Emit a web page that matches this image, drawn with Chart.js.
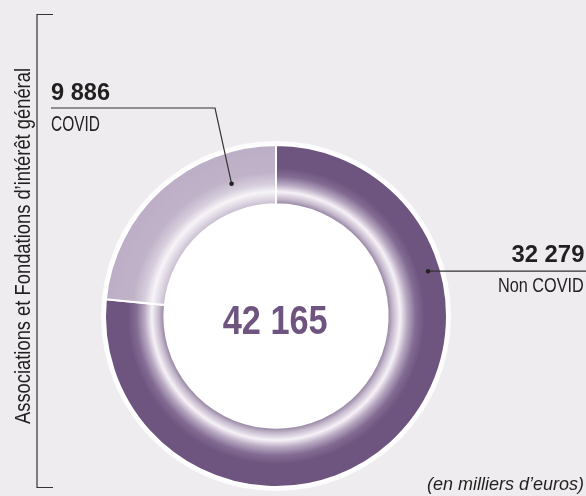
<!DOCTYPE html>
<html>
<head>
<meta charset="utf-8">
<script src="https://cdn.jsdelivr.net/npm/chart.js@4.4.1/dist/chart.umd.min.js"></script>
<style>
  html, body { margin: 0; padding: 0; background: #eeecee; }
  #wrap { position: relative; width: 586px; height: 496px; overflow: hidden;
          font-family: "Liberation Sans", Arial, sans-serif; color: #231f20; }
  #wrap canvas { position: absolute; left: 0; top: 0; }
  .lbl { position: absolute; white-space: nowrap; line-height: 1; }
</style>
</head>
<body>
<div id="wrap">
  <canvas id="donut" width="586" height="496"></canvas>
  <div class="lbl" id="side" style="font-size:22px;">Associations et Fondations d’intérêt général</div>
  <div class="lbl" id="v1" style="font-size:24px; font-weight:bold;"></div>
  <div class="lbl" id="c1" style="font-size:22px;"></div>
  <div class="lbl" id="v0" style="font-size:24px; font-weight:bold;"></div>
  <div class="lbl" id="c0" style="font-size:21px;"></div>
  <div class="lbl" id="total" style="font-size:40px; font-weight:bold; color:#6e5580;"></div>
  <div class="lbl" id="unit" style="font-size:18px; font-style:italic;">(en milliers d’euros)</div>
</div>
<script>
// data
const labels = ['Non COVID', 'COVID'];
const values = [32279, 9886];

const fmt = n => String(n).replace(/\B(?=(\d{3})+(?!\d))/g, ' ');

document.getElementById('v0').textContent = fmt(values[0]);
document.getElementById('c0').textContent = labels[0];
document.getElementById('v1').textContent = fmt(values[1]);
document.getElementById('c1').textContent = labels[1];
document.getElementById('total').textContent = fmt(values.reduce((a, b) => a + b, 0));

// squeeze text into the condensed widths of the original
function place(id, x, top, w, align) {
    const el = document.getElementById(id);
    const s = w / el.getBoundingClientRect().width;
    el.style.top = top + 'px';
    if (align === 'right') {
        el.style.right = (586 - x) + 'px';
        el.style.transformOrigin = 'right center';
    } else if (align === 'center') {
        el.style.left = (x - el.getBoundingClientRect().width / 2) + 'px';
        el.style.transformOrigin = 'center center';
    } else {
        el.style.left = x + 'px';
        el.style.transformOrigin = 'left center';
    }
    el.style.transform = 'scaleX(' + s + ')';
}
place('v1', 51, 79.5, 59, 'left');
place('c1', 51, 112.5, 49, 'left');
place('v0', 584, 241.8, 73, 'right');
place('c0', 584, 274, 86, 'right');
place('total', 275, 300, 105, 'center');
place('unit', 584, 474.5, 157, 'right');

const side = document.getElementById('side');
const sw = side.getBoundingClientRect().width;
side.style.left = '23px';
side.style.top = '246px';
side.style.transform = 'translate(-50%, -50%) rotate(-90deg) scaleX(' + (356 / sw) + ')';

const OUTER = 171, INNER = 111;

// radial glow near the hole
function ringGradient(ctx, idx) {
    const area = ctx.chart.chartArea;
    if (!area) return idx === 0 ? '#6e5580' : '#bcaec6';
    const cx = (area.left + area.right) / 2, cy = (area.top + area.bottom) / 2;
    const g = ctx.chart.ctx.createRadialGradient(cx, cy, INNER, cx, cy, OUTER);
    if (idx === 0) {
        g.addColorStop(0, '#8a7898');
        g.addColorStop(0.1, '#c4b8cc');
        g.addColorStop(0.22, '#f6f2f7');
        g.addColorStop(0.34, '#b8a9c2');
        g.addColorStop(0.48, '#836c93');
        g.addColorStop(0.62, '#6e5580');
        g.addColorStop(1, '#6e5580');
    } else {
        g.addColorStop(0, '#c3b7cb');
        g.addColorStop(0.1, '#ddd5e2');
        g.addColorStop(0.22, '#f7f4f8');
        g.addColorStop(0.36, '#d6cddc');
        g.addColorStop(0.55, '#c0b3c9');
        g.addColorStop(1, '#bcaec6');
    }
    return g;
}

// leader points: [fraction along arc, fraction across ring]
const leaderAt = [[0.267, 0.79], [0.78, 0.47]];

const decor = {
    id: 'decor',
    beforeDatasetsDraw(chart) {
        const c = chart.ctx;
        const arc = chart.getDatasetMeta(0).data[0];
        c.save();
        c.fillStyle = 'rgba(255,255,255,0.85)';
        c.beginPath();
        c.arc(arc.x, arc.y, arc.outerRadius + 4, 0, Math.PI * 2);
        c.fill();
        c.fillStyle = '#ffffff';
        c.beginPath();
        c.arc(arc.x, arc.y, arc.innerRadius, 0, Math.PI * 2);
        c.fill();
        c.restore();
    },
    afterDatasetsDraw(chart) {
        const c = chart.ctx;
        const els = chart.getDatasetMeta(0).data;
        const pts = els.map((el, i) => {
            const a = el.startAngle + (el.endAngle - el.startAngle) * leaderAt[i][0];
            const r = el.innerRadius + (el.outerRadius - el.innerRadius) * leaderAt[i][1];
            return { x: el.x + Math.cos(a) * r, y: el.y + Math.sin(a) * r };
        });
        c.save();
        c.strokeStyle = '#333';
        c.fillStyle = '#222';
        c.lineWidth = 1.2;
        // bracket
        c.beginPath();
        c.moveTo(53, 14.5); c.lineTo(37, 14.5); c.lineTo(37, 487.5); c.lineTo(53, 487.5);
        c.stroke();
        // Non COVID leader
        c.beginPath();
        c.moveTo(pts[0].x, pts[0].y); c.lineTo(586, pts[0].y);
        c.stroke();
        // COVID leader
        c.beginPath();
        c.moveTo(51, 108); c.lineTo(215, 108); c.lineTo(pts[1].x, pts[1].y);
        c.stroke();
        pts.forEach(p => {
            c.beginPath();
            c.arc(p.x, p.y, 2.3, 0, Math.PI * 2);
            c.fill();
        });
        c.restore();
    }
};

new Chart(document.getElementById('donut'), {
    type: 'doughnut',
    data: {
        labels: labels,
        datasets: [{
            data: values,
            backgroundColor: ctx => ringGradient(ctx, ctx.dataIndex),
            borderColor: '#ffffff',
            borderWidth: 2
        }]
    },
    options: {
        responsive: false,
        animation: false,
        devicePixelRatio: 1,
        radius: OUTER,
        cutout: INNER,
        rotation: 0,
        layout: { padding: { left: 105, right: 139, top: 145, bottom: 9 } },
        plugins: {
            legend: { display: false },
            tooltip: { enabled: false }
        },
        events: []
    },
    plugins: [decor]
});
</script>
</body>
</html>
